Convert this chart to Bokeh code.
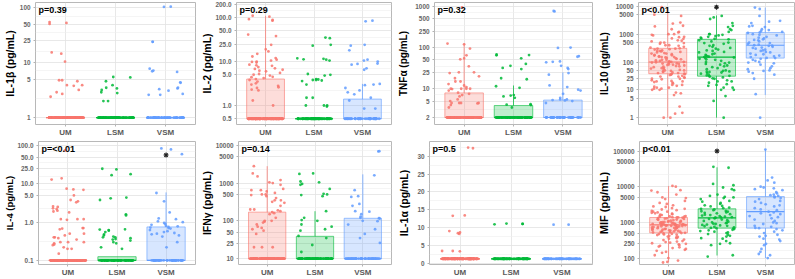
import math
from bokeh.plotting import figure
from bokeh.layouts import column, row
from bokeh.models import Range1d, FixedTicker, Label, ColumnDataSource
from bokeh.transform import jitter, dodge
from bokeh.embed import file_html
from bokeh.resources import INLINE

# ---------------- data ----------------
GROUPS = ["UM", "LSM", "VSM"]
GROUP_X = [1, 2, 3]
COLORS = ["#F8766D", "#00BA38", "#619CFF"]

# IL-1beta
IL1B_UM = [55, 53, 51, 15.4, 14.6, 10.5, 4.8, 4.8, 4.6, 3.9, 3.9, 3.8, 3.2, 2.9, 2.7, 2.4] + [1.0] * 130
IL1B_LSM = [5.5, 5.4, 4.6, 3.9, 3.5, 3.4, 3.2, 2.9, 2.8, 2.0, 2.0] + [1.0] * 75
IL1B_VSM = [105, 104, 24, 24, 7.8, 7.2, 7.0, 6.8, 4.4, 4.3, 3.5, 3.4, 3.3, 3.1, 2.7, 2.6, 2.6] + [1.0] * 50
IL1B_BOX = [[1, 1, 1, 1, 1], [1, 1, 1, 1, 1], [1, 1, 1, 1, 1]]  # lo, q1, median, q3, hi

# IL-2
IL2_UM = [110, 105, 92, 88, 85, 41, 38, 24, 19, 17, 15, 13, 11, 10.5, 10, 9.8, 9.5, 8.5, 8, 7.5, 7, 6.8,
          6.5, 6, 5.5, 5, 4.8, 4.5, 4.2, 4, 3.5, 3.2, 3, 2.8, 2.5, 2.3, 2.2, 1.3, 1.0, 12, 8.2, 6.2, 5.2,
          4.4, 3.8, 2.6] + [0.5] * 110
IL2_LSM = [35, 34, 24, 23, 11.8, 11.5, 11.2, 11, 10.5, 5.2, 5.0, 4.8, 4.0, 3.9, 3.8, 3.8, 3.7, 3.6, 3.0,
           1.5, 1.5, 1.0, 1.0, 1.0, 0.95] + [0.5] * 65
IL2_VSM = [85, 82, 24, 23, 18, 11, 10.5, 10, 9, 8.8, 8.5, 7, 6.5, 3.1, 3.0, 2.9, 2.5, 2.2, 2.0, 1.8, 1.5,
           1.3, 0.85, 0.85] + [0.5] * 42
IL2_BOX = [[0.5, 0.5, 0.5, 4.0, 110], [0.5, 0.5, 0.5, 0.5, 0.5], [0.5, 0.5, 0.5, 1.4, 3.1]]

# TNF-alpha
TNF_UM = [950, 125, 120, 95, 65, 55, 52, 35, 25, 25, 24, 20, 18, 15, 15, 13, 12, 11, 10, 10, 10, 10, 9.8,
          9, 8, 7.5, 7, 6.5, 5.5, 5, 4.5, 4.5, 4.5, 4.5, 4.4, 4.0, 3.5] + [2.0] * 110
TNF_LSM = [68, 66, 65, 55, 40, 36, 32, 30, 18, 17, 11.5, 10.5, 7, 6.8, 6.5, 6, 4.2, 4.1, 4.0, 3.5] + [2.0] * 70
TNF_VSM = [780, 760, 100, 98, 62, 60, 46, 45, 44, 36, 32, 30, 24, 22, 12, 11, 9.5, 9, 7.5, 6, 5.5, 5.5,
           5.3, 5.2, 5.0, 4.5] + [2.0] * 40
TNF_BOX = [[2, 2, 2, 7.9, 125], [2, 2, 2, 3.9, 12], [2, 2, 2, 5.3, 25]]

# IL-10
IL10_UM = [9300, 5000, 4500, 2600, 2400, 2000, 1900, 1500, 1200, 1150, 1000, 1000, 950, 900, 800, 780,
           700, 680, 600, 580, 550, 500, 500, 480, 450, 400, 400, 380, 350, 330, 310, 300, 300, 290, 280,
           260, 250, 250, 240, 230, 220, 210, 200, 200, 190, 180, 175, 170, 160, 155, 150, 150, 145, 140,
           135, 130, 125, 120, 120, 115, 110, 105, 100, 100, 100, 98, 95, 92, 90, 88, 85, 82, 80, 78, 75,
           72, 70, 68, 65, 62, 60, 58, 55, 52, 50, 50, 48, 46, 44, 42, 40, 40, 38, 37, 36, 35, 34, 32, 30,
           30, 28, 27, 25, 25, 24, 22, 21, 20, 20, 19, 18, 17, 15, 15, 14, 13, 12, 12, 11, 11, 10, 10, 8,
           7.5, 6.5, 2.5, 1.5, 1.4, 1.0, 1.0]
IL10_LSM = [4500, 4000, 3500, 2500, 2000, 1800, 1500, 1400, 1200, 1000, 1000, 950, 900, 850, 800, 750,
            700, 680, 650, 600, 550, 500, 480, 450, 400, 380, 350, 320, 300, 280, 260, 250, 230, 220, 200,
            190, 180, 170, 160, 155, 150, 145, 140, 130, 125, 120, 110, 100, 95, 90, 85, 80, 75, 70, 65, 60,
            55, 50, 48, 46, 45, 44, 42, 40, 38, 35, 33, 32, 31, 30, 28, 26, 25, 22, 20, 20, 18, 16, 15, 14,
            12, 12, 10, 10, 6, 4, 1]
IL10_VSM = [9000, 8000, 4500, 3000, 2800, 2500, 2000, 1900, 1800, 1500, 1400, 1300, 1200, 1150, 1100,
            1000, 950, 900, 800, 750, 700, 650, 620, 600, 550, 500, 480, 450, 420, 400, 390, 380, 350, 330,
            320, 300, 280, 260, 250, 230, 220, 200, 190, 180, 170, 160, 150, 140, 138, 130, 120, 110, 100,
            95, 90, 80, 70, 60, 55, 50, 48, 45, 40, 35, 25, 7, 1]
IL10_BOX = [[1, 38, 100, 310, 9300], [1, 31, 150, 650, 4700], [6.5, 138, 400, 1140, 9000]]

# IL-4
IL4_UM = [75, 14, 13, 7.5, 7.2, 7, 5, 3.8, 3.5, 3.3, 2.6, 2.5, 2.3, 2.2, 2.0, 1.9, 1.8, 1.2, 1.2, 1.2,
          1.15, 0.7, 0.7, 0.68, 0.65, 0.5, 0.5, 0.45, 0.4, 0.4, 0.38, 0.35, 0.3, 0.3, 0.3, 0.28, 0.26,
          0.25, 0.22, 0.2, 0.2, 0.15] + [0.1] * 110
IL4_LSM = [25, 24, 18, 17, 4.4, 4.2, 3.8, 1.6, 1.5, 0.65, 0.64, 0.62, 0.6, 0.55, 0.48, 0.45, 0.42, 0.4,
           0.4, 0.38, 0.36, 0.35, 0.33, 0.3, 0.28, 0.22, 0.2] + [0.1] * 60
IL4_VSM = [85, 80, 60, 5.8, 3.5, 1.8, 1.25, 1.2, 1.05, 1.0, 0.95, 0.9, 0.85, 0.8, 0.78, 0.75, 0.72, 0.7,
           0.68, 0.62, 0.58, 0.55, 0.52, 0.5, 0.48, 0.45, 0.42, 0.3, 0.22] + [0.1] * 38
IL4_BOX = [[0.1, 0.1, 0.1, 0.1, 0.1], [0.1, 0.1, 0.1, 0.125, 0.125], [0.1, 0.1, 0.1, 0.75, 6.0]]

# IFN-gamma
IFNG_UM = [2800, 1800, 1500, 1200, 1050, 1000, 900, 700, 650, 650, 600, 550, 500, 500, 480, 450, 400, 350,
           350, 320, 300, 250, 200, 200, 190, 180, 170, 160, 150, 120, 100, 100, 95, 90, 80, 70, 65, 60, 55,
           45, 20, 20, 20] + [10.0] * 100
IFNG_LSM = [1800, 1750, 1100, 1050, 950, 900, 700, 520, 500, 480, 450, 180, 120, 105, 100, 80, 70, 60, 55,
            40, 35, 23, 15] + [10.0] * 65
IFNG_VSM = [7000, 6900, 1600, 650, 450, 430, 280, 250, 180, 175, 150, 130, 120, 118, 115, 100, 98, 80, 60,
            45, 35, 26] + [10.0] * 42
IFNG_BOX = [[10, 10, 10, 170, 2800], [10, 10, 10, 39, 180], [10, 10, 10, 117, 1700]]

# IL-1alpha
IL1A_UM = [32.5, 32.3, 13.4, 13.3, 9.0, 8.6, 8.4, 8.2, 3.4, 3.4, 3.3] + [1.2] * 140
IL1A_LSM = [11.1, 11.0, 11.0, 10.9] + [1.2] * 85
IL1A_VSM = [10.8, 10.8] + [1.2] * 62
IL1A_BOX = [[1.2, 1.2, 1.2, 1.2, 1.2], [1.2, 1.2, 1.2, 1.2, 1.2], [1.2, 1.2, 1.2, 1.2, 1.2]]

# MIF
MIF_UM = [10500, 10000, 8000, 7800, 7000, 6000, 5000, 4800, 4500, 4000, 3500, 3300, 3000, 2800, 2700, 2500,
          2400, 2300, 2200, 2100, 2000, 2000, 1900, 1850, 1800, 1750, 1700, 1650, 1600, 1550, 1500, 1480,
          1450, 1420, 1400, 1380, 1370, 1350, 1320, 1300, 1280, 1250, 1220, 1200, 1180, 1150, 1120, 1100,
          1080, 1060, 1050, 1030, 1010, 1000, 990, 980, 960, 950, 940, 920, 900, 890, 880, 870, 860, 850,
          850, 840, 830, 820, 810, 800, 790, 780, 770, 760, 750, 740, 730, 720, 710, 700, 690, 680, 670,
          660, 650, 640, 630, 620, 610, 600, 590, 580, 570, 560, 550, 540, 530, 520, 510, 500, 490, 480,
          470, 460, 450, 440, 420, 400, 390, 380, 360, 350, 330, 320, 300, 290, 280, 270, 260, 250, 240,
          230, 220, 210, 200, 190, 180, 170, 160, 150, 140, 120, 100, 85, 78, 75]
MIF_LSM = [36000, 34000, 12000, 11000, 9500, 8500, 8000, 6000, 5500, 5200, 5000, 4800, 4500, 4000, 3800,
           3500, 3300, 3000, 2900, 2800, 2600, 2500, 2400, 2300, 2200, 2100, 2050, 2000, 1900, 1850, 1800,
           1700, 1650, 1600, 1550, 1500, 1450, 1400, 1380, 1350, 1340, 1300, 1250, 1200, 1150, 1100, 1050,
           1000, 980, 950, 920, 900, 870, 850, 820, 800, 780, 750, 720, 700, 690, 670, 650, 620, 600, 570,
           550, 520, 500, 470, 450, 420, 400, 360, 350, 300, 260, 250, 230, 120, 110]
MIF_VSM = [110000, 18000, 15000, 13000, 10000, 9500, 9000, 8500, 8000, 7000, 6500, 6000, 5800, 5500, 5300,
           5000, 4800, 4500, 4000, 3800, 3500, 3200, 3000, 2800, 2500, 2300, 2200, 2000, 1900, 1800, 1700,
           1600, 1500, 1400, 1300, 1200, 1100, 1000, 950, 900, 800, 750, 700, 690, 650, 600, 550, 500, 450,
           420, 400, 350, 330, 300, 250, 230, 180, 150, 130, 120, 100]
MIF_BOX = [[78, 510, 850, 1370, 10500], [118, 690, 1340, 2400, 35000], [100, 690, 2000, 5300, 110000]]

PANELS = [
    dict(ylabel="IL-1β (pg/mL)", ptext="p=0.39", log=True, yrange=(0.75, 125),
         ticks=[1, 5, 10, 25, 50, 100], labels=["1", "5", "10", "25", "50", "100"],
         series=[IL1B_UM, IL1B_LSM, IL1B_VSM], box=IL1B_BOX, stars=[]),
    dict(ylabel="IL-2 (pg/mL)", ptext="p=0.29", log=True, yrange=(0.37, 220),
         ticks=[0.5, 1, 5, 10, 25, 50, 100, 200],
         labels=["0.5", "1.0", "5.0", "10.0", "25.0", "50.0", "100.0", "200.0"],
         series=[IL2_UM, IL2_LSM, IL2_VSM], box=IL2_BOX, stars=[]),
    dict(ylabel="TNFα (pg/mL)", ptext="p=0.32", log=True, yrange=(1.35, 1250),
         ticks=[2, 5, 10, 25, 50, 100, 250, 500, 1000],
         labels=["2", "5", "10", "25", "50", "100", "250", "500", "1000"],
         series=[TNF_UM, TNF_LSM, TNF_VSM], box=TNF_BOX, stars=[]),
    dict(ylabel="IL-10 (pg/mL)", ptext="p<0.01", log=True, yrange=(0.57, 13700),
         ticks=[1, 5, 10, 25, 50, 100, 500, 1000, 5000, 10000],
         labels=["1", "5", "10", "25", "50", "100", "500", "1000", "5000", "10000"],
         series=[IL10_UM, IL10_LSM, IL10_VSM], box=IL10_BOX, stars=[(2, 9300)]),
    dict(ylabel="IL-4 (pg/mL)", ptext="p=<0.01", log=True, yrange=(0.078, 129),
         ticks=[0.1, 1, 5, 10, 25, 50, 100],
         labels=["0.1", "1.0", "5.0", "10.0", "25.0", "50.0", "100.0"],
         series=[IL4_UM, IL4_LSM, IL4_VSM], box=IL4_BOX, stars=[(3, 57)]),
    dict(ylabel="IFNγ (pg/mL)", ptext="p=0.14", log=True, yrange=(7.0, 12600),
         ticks=[10, 25, 50, 100, 500, 1000, 5000, 10000],
         labels=["10", "25", "50", "100", "500", "1000", "5000", "10000"],
         series=[IFNG_UM, IFNG_LSM, IFNG_VSM], box=IFNG_BOX, stars=[]),
    dict(ylabel="IL-1α (pg/mL)", ptext="p=0.5", log=False, yrange=(-0.4, 34.2),
         ticks=[0, 5, 10, 15, 20, 25, 30], labels=["0", "5", "10", "15", "20", "25", "30"],
         series=[IL1A_UM, IL1A_LSM, IL1A_VSM], box=IL1A_BOX, stars=[]),
    dict(ylabel="MIF (pg/mL)", ptext="p<0.01", log=True, yrange=(66, 185000),
         ticks=[100, 250, 500, 1000, 5000, 10000, 50000, 100000],
         labels=["100", "250", "500", "1000", "5000", "10000", "50000", "100000"],
         series=[MIF_UM, MIF_LSM, MIF_VSM], box=MIF_BOX, stars=[(2, 100000)]),
]

# ---------------- layout / style ----------------
FONT = "Liberation Sans"
TICK_FS = 6.4
LAYOUT = [
    dict(w=197, h=139, l=28, r=2, t=2, b=13, yfs=10.5),
    dict(w=198, h=139, l=31, r=4, t=2, b=13, yfs=10.5),
    dict(w=200, h=139, l=33, r=3, t=2, b=13, yfs=10.0),
    dict(w=200, h=139, l=36, r=1, t=2, b=13, yfs=10.0),
    dict(w=197, h=140, l=31, r=2, t=2, b=12, yfs=9.5),
    dict(w=198, h=140, l=34, r=4, t=2, b=12, yfs=10.5),
    dict(w=200, h=140, l=27, r=3, t=2, b=12, yfs=10.5),
    dict(w=200, h=140, l=38, r=1, t=2, b=12, yfs=11.0),
]
BOX_W = 0.78
JIT_W = 0.72


def text_w(s, fs):
    w = 0.0
    for ch in s:
        w += 0.278 if ch == "." else 0.556
    return w * fs


def make_panel(spec, lay):
    p = figure(width=lay["w"], height=lay["h"], x_range=Range1d(0.4, 3.6),
               y_range=Range1d(*spec["yrange"]),
               y_axis_type="log" if spec["log"] else "linear",
               output_backend="svg", toolbar_location=None,
               min_border_left=lay["l"], min_border_right=lay["r"],
               min_border_top=lay["t"], min_border_bottom=lay["b"],
               background_fill_color="white", border_fill_color="white")
    p.outline_line_color = "#B8B8B8"
    p.outline_line_width = 1

    ticks = spec["ticks"]
    if spec["log"]:
        minor = [math.sqrt(a * b) for a, b in zip(ticks[:-1], ticks[1:])]
    else:
        minor = [(a + b) / 2 for a, b in zip(ticks[:-1], ticks[1:])] + [ticks[-1] + 2.5]
    p.yaxis.ticker = FixedTicker(ticks=ticks, minor_ticks=minor)
    p.yaxis.major_label_overrides = {t: lab for t, lab in zip(ticks, spec["labels"])}
    p.xaxis.ticker = FixedTicker(ticks=GROUP_X)
    p.xaxis.major_label_overrides = {x: g for x, g in zip(GROUP_X, GROUPS)}

    for ax in (p.xaxis[0], p.yaxis[0]):
        ax.axis_line_color = None
        ax.major_tick_line_color = "#B3B3B3"
        ax.major_tick_out = 2
        ax.major_tick_in = 0
        ax.minor_tick_line_color = None
        ax.major_label_standoff = 1
        ax.major_label_text_font = FONT
        ax.major_label_text_font_style = "bold"
    p.yaxis.major_label_text_font_size = f"{TICK_FS}px"
    p.yaxis.major_label_text_color = "#666666"
    p.xaxis.major_label_text_font_size = "8px"
    p.xaxis.major_label_text_color = "#5A5A5A"

    p.yaxis.axis_label = spec["ylabel"]
    p.yaxis.axis_label_text_font = FONT
    p.yaxis.axis_label_text_font_style = "bold"
    p.yaxis.axis_label_text_font_size = f"{lay['yfs']}px"
    p.yaxis.axis_label_text_color = "black"
    wmax = max(text_w(s, TICK_FS) for s in spec["labels"])
    used = 2 + 1 + wmax + 1.12 * lay["yfs"]
    p.yaxis.axis_label_standoff = int(max(0, round(lay["l"] - 1.5 - used)))

    p.xgrid.grid_line_color = "#E2E2E2"
    p.xgrid.grid_line_width = 0.8
    p.ygrid.grid_line_color = "#E2E2E2"
    p.ygrid.grid_line_width = 0.8
    p.ygrid.minor_grid_line_color = "#EFEFEF"
    p.ygrid.minor_grid_line_width = 0.6

    # boxes
    bx = dict(x=GROUP_X, lo=[b[0] for b in spec["box"]], q1=[b[1] for b in spec["box"]],
              med=[b[2] for b in spec["box"]], q3=[b[3] for b in spec["box"]],
              hi=[b[4] for b in spec["box"]], color=COLORS)
    bsrc = ColumnDataSource(bx)
    p.segment(x0="x", y0="lo", x1="x", y1="q1", source=bsrc, line_color="color",
              line_alpha=0.75, line_width=1)
    p.segment(x0="x", y0="q3", x1="x", y1="hi", source=bsrc, line_color="color",
              line_alpha=0.75, line_width=1)
    p.vbar(x="x", width=BOX_W, bottom="q1", top="q3", source=bsrc, fill_color="color",
           fill_alpha=0.25, line_color="color", line_alpha=0.6, line_width=1)
    p.segment(x0=dodge("x", -BOX_W / 2), y0="med", x1=dodge("x", BOX_W / 2), y1="med",
              source=bsrc, line_color="color", line_width=1.2)

    # jittered points
    xs, ys, cs = [], [], []
    for gx, col, vals in zip(GROUP_X, COLORS, spec["series"]):
        xs += [gx] * len(vals)
        ys += list(vals)
        cs += [col] * len(vals)
    psrc = ColumnDataSource(dict(x=xs, y=ys, color=cs))
    p.scatter(x=jitter("x", width=JIT_W), y="y", source=psrc, size=2.8,
              fill_color="color", fill_alpha=0.85, line_color=None)

    if spec["stars"]:
        ssrc = ColumnDataSource(dict(x=[GROUP_X[g - 1] for g, _ in spec["stars"]],
                                     y=[v for _, v in spec["stars"]]))
        p.scatter(x="x", y="y", source=ssrc, marker="asterisk", size=5,
                  line_color="#222222", line_width=1.1)

    p.add_layout(Label(x=0.4, y=spec["yrange"][1], x_offset=3, y_offset=-2.5,
                       text=spec["ptext"], text_font=FONT, text_font_style="bold",
                       text_font_size="9px", text_color="black", text_baseline="top",
                       text_align="left"))
    return p


figs = [make_panel(s, l) for s, l in zip(PANELS, LAYOUT)]
layout = column(row(*figs[:4]), row(*figs[4:]))

open("out.html", "w").write(file_html(layout, INLINE))
